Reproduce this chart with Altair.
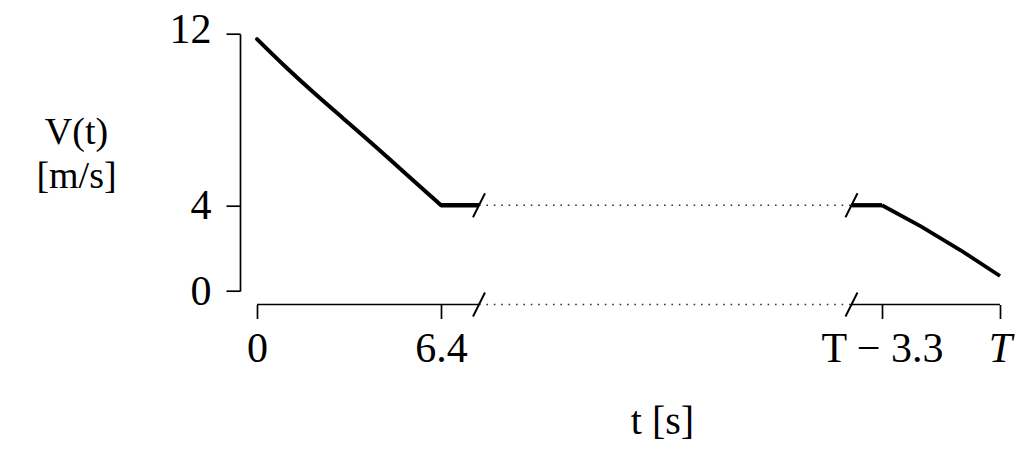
import altair as alt
import pandas as pd

# ---- values ----
T_END = 30.0                 # symbolic end time T (schematic)
BREAK_1 = 7.72               # where the left part is cut
BREAK_2 = T_END - 4.15       # where the right part resumes
AXIS_V = -0.63               # level of the (offset) time axis, in V units

curve_t = [0, 1, 2, 3, 4, 5, 6, 6.4]
curve_v = [11.75, 10.45, 9.22, 8.05, 6.88, 5.68, 4.48, 4.0]

flat_t = [6.4, BREAK_1]
flat_v = [4.0, 4.0]

flat2_t = [BREAK_2, T_END - 3.3]
flat2_v = [4.0, 4.0]

tail_t = [T_END - 3.3, T_END - 2.2, T_END - 1.1, T_END]
tail_v = [4.0, 3.0, 1.9, 0.7]

x_ticks = [0, 6.4, T_END - 3.3, T_END]
x_labels = ["0", "6.4", "T − 3.3", "T"]
y_ticks = [0, 4, 12]

FONT = "Liberation Serif"

# ---- tables ----
curve_df = pd.DataFrame({"t": curve_t, "v": curve_v})
flat_df = pd.DataFrame({"t": flat_t + flat2_t, "v": flat_v + flat2_v,
                        "seg": ["l", "l", "r", "r"]})
tail_df = pd.DataFrame({"t": tail_t, "v": tail_v})
gap_df = pd.DataFrame({"t": [BREAK_1, BREAK_2, BREAK_1, BREAK_2],
                       "v": [4.0, 4.0, AXIS_V, AXIS_V],
                       "seg": ["line", "line", "axis", "axis"]})
axis_df = pd.DataFrame({"t": [0, BREAK_1, BREAK_2, T_END],
                        "v": [AXIS_V] * 4,
                        "seg": ["a", "a", "b", "b"]})
slash_df = pd.DataFrame({"t": [BREAK_1, BREAK_2, BREAK_1, BREAK_2],
                         "v": [4.0, 4.0, AXIS_V, AXIS_V]})

x_scale = alt.Scale(domain=[0, 6.4, BREAK_1, BREAK_2, T_END - 3.3, T_END],
                    range=[0, 184, 222, 594.5, 625, 743], nice=False, zero=False)
y_scale = alt.Scale(domain=[0, 12], nice=False, zero=False)

label_expr = "''"
for val, lab in zip(reversed(x_ticks), reversed(x_labels)):
    label_expr = f"abs(datum.value - {val}) < 0.01 ? '{lab}' : ({label_expr})"

x_axis = alt.Axis(values=x_ticks, labelExpr=label_expr, domain=False,
                  offset=13.5, tickSize=14, tickWidth=1.7, tickColor="black",
                  labelFont=FONT, labelFontSize=42, labelPadding=9.5,
                  labelColor="black", labelFlush=False, labelOverlap=False,
                  labelFontStyle={"condition": {"test": f"abs(datum.value - {T_END}) < 0.01",
                                                "value": "italic"},
                                  "value": "normal"},
                  grid=False, title="t [s]", titleFont=FONT, titleFontSize=40,
                  titleFontWeight="normal", titleColor="black",
                  titleX=405, titleY=128.5, titleBaseline="alphabetic",
                  titleAlign="center")

y_axis = alt.Axis(values=y_ticks, domain=True, domainWidth=1.7,
                  domainColor="black", offset=17, tickSize=14, tickWidth=1.7,
                  tickColor="black", labelFont=FONT, labelFontSize=42,
                  labelPadding=15, labelColor="black", labelFlush=False,
                  labelOverlap=False,
                  labelOffset={"condition": {"test": "datum.value == 12", "value": -4},
                               "value": 0},
                  grid=False, title=["V(t)", "[m/s]"], titleFont=FONT,
                  titleFontSize=38, titleFontWeight="normal", titleColor="black",
                  titleAngle=0, titleAlign="center", titleBaseline="alphabetic",
                  titleX=-164, titleY=110, titleLineHeight=44)

X = alt.X("t:Q", scale=x_scale, axis=x_axis)
Y = alt.Y("v:Q", scale=y_scale, axis=y_axis)

curve = alt.Chart(curve_df).mark_line(color="black", strokeWidth=4,
                                      strokeCap="round",
                                      interpolate="monotone").encode(x=X, y=Y)

flat = alt.Chart(flat_df).mark_line(color="black", strokeWidth=4.3).encode(
    x=X, y=Y, detail="seg:N")

tail = alt.Chart(tail_df).mark_line(color="black", strokeWidth=3.8).encode(x=X, y=Y)

gap = alt.Chart(gap_df).mark_line(color="#333333", strokeWidth=1.6,
                                  strokeDash=[1.6, 5.8]).encode(
    x=X, y=Y, detail="seg:N")

axis_line = alt.Chart(axis_df).mark_line(color="black", strokeWidth=1.7).encode(
    x=X, y=Y, detail="seg:N")

slashes = alt.Chart(slash_df).mark_point(
    shape="M-0.5,1L0.5,-1", size=576, filled=False, color="black",
    strokeWidth=1.9, opacity=1,
).encode(x=X, y=Y)

chart = alt.layer(curve, flat, tail, gap, axis_line, slashes).properties(
    width=743, height=257.3,
    autosize=alt.AutoSizeParams(type="none"),
    padding={"left": 249, "top": 25.7, "right": 18, "bottom": 152},
    background="white",
).configure(font=FONT).configure_view(stroke=None)

chart.save("out.html", embed_options={"renderer": "svg", "actions": False})
